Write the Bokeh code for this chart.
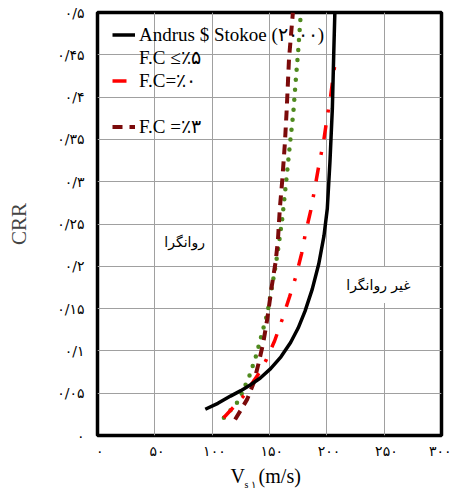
from bokeh.plotting import figure
from bokeh.layouts import column
from bokeh.models import FixedTicker, Legend, LegendItem, Label, Range1d
from bokeh.embed import file_html
from bokeh.resources import INLINE

# ---- data ----
andrus_vs = [94, 105, 116, 125, 133.5, 142, 151, 160, 168.4, 175, 181, 187.3, 193, 197.5, 200.4, 202.7, 204.8, 206, 207]
andrus_crr = [0.031, 0.038, 0.0466, 0.053, 0.060, 0.068, 0.079, 0.093, 0.110, 0.127, 0.147, 0.173, 0.203, 0.236, 0.268, 0.323, 0.386, 0.45, 0.50]

fc0_vs = [110, 119, 127, 134, 141, 147, 154.5, 161, 167.5, 173, 178, 181.5, 186, 189.5, 193, 197, 200.5, 203, 205.7, 208.3]
fc0_crr = [0.021, 0.034, 0.046, 0.060, 0.074, 0.089, 0.112, 0.137, 0.164, 0.188, 0.215, 0.240, 0.266, 0.292, 0.319, 0.346, 0.378, 0.398, 0.426, 0.451]

fc3_vs = [120, 125, 130.6, 136.4, 140.8, 144.6, 148.1, 151.8, 155.3, 157.3, 159, 161.2, 163.4, 165, 167, 170.4]
fc3_crr = [0.019, 0.030, 0.043, 0.063, 0.087, 0.110, 0.138, 0.175, 0.205, 0.230, 0.268, 0.303, 0.345, 0.385, 0.445, 0.50]

green_vs = [110.2, 116.1, 121.3, 125.4, 129.1, 132.9, 138.7, 143.1, 148.1, 151, 154.5, 157.3, 161.2, 164.9, 167.8, 170.8, 172.8, 175.1, 177.1]
green_crr = [0.021, 0.030, 0.038, 0.048, 0.060, 0.072, 0.096, 0.119, 0.144, 0.167, 0.194, 0.218, 0.257, 0.305, 0.344, 0.382, 0.418, 0.456, 0.495]

x_ticks = [0, 50, 100, 150, 200, 250, 300]
x_tick_labels = ["۰", "۵۰", "۱۰۰", "۱۵۰", "۲۰۰", "۲۵۰", "۳۰۰"]
y_ticks = [0, 0.05, 0.1, 0.15, 0.2, 0.25, 0.3, 0.35, 0.4, 0.45, 0.5]
y_tick_labels = ["۰", "۰/۰۵", "۰/۱", "۰/۱۵", "۰/۲", "۰/۲۵", "۰/۳", "۰/۳۵", "۰/۴", "۰/۴۵", "۰/۵"]

legend_labels = ["Andrus $ Stokoe (۲۰۰۰)", "F.C ≤٪۵", "F.C=٪۰", " ", "F.C =٪۳"]
y_title = "CRR"
x_title_main = "V"
x_title_sub = "s ۱"
x_title_unit = "(m/s)"
region_liq = "روانگرا"
region_nonliq = "غیر روانگرا"

SERIF = "Liberation Serif"

p = figure(width=451, height=461, output_backend="svg", toolbar_location=None,
           x_range=Range1d(0, 300), y_range=Range1d(0, 0.5),
           min_border_left=97, min_border_right=10, min_border_top=12, min_border_bottom=24)
p.background_fill_color = "white"
p.border_fill_color = "white"
p.outline_line_color = "black"
p.outline_line_width = 3.5

for ax in (p.xaxis, p.yaxis):
    ax.axis_line_color = None
    ax.major_tick_line_color = None
    ax.minor_tick_line_color = None
    ax.major_tick_out = 0
    ax.major_tick_in = 0
    ax.major_label_text_font = "DejaVu Sans"
    ax.major_label_text_font_size = "14px"
    ax.major_label_text_color = "black"

p.xaxis.ticker = FixedTicker(ticks=x_ticks)
p.yaxis.ticker = FixedTicker(ticks=y_ticks)
p.xaxis.major_label_overrides = {t: "\u00a0" + l for t, l in zip(x_ticks, x_tick_labels)}
p.yaxis.major_label_overrides = dict(zip(y_ticks, y_tick_labels))
p.xaxis.major_label_standoff = 7
p.yaxis.major_label_standoff = 13

p.yaxis.axis_label = y_title
p.yaxis.axis_label_text_font = SERIF
p.yaxis.axis_label_text_font_size = "21px"
p.yaxis.axis_label_text_font_style = "normal"
p.yaxis.axis_label_standoff = 23

p.xgrid.grid_line_color = "#a0a0a0"
p.ygrid.grid_line_color = "#a0a0a0"
p.xgrid.grid_line_width = 1
p.ygrid.grid_line_width = 1

r_green = p.line(green_vs, green_crr, line_color="#4f8a1e", line_width=4.5,
                 line_dash="0 10", line_cap="round")
r_fc3 = p.line(fc3_vs, fc3_crr, line_color="#7b0a0a", line_width=4, line_dash="10 7")
r_fc0 = p.line(fc0_vs, fc0_crr, line_color="#ff0000", line_width=3.5, line_dash="14 13 3 13")
r_andrus = p.line(andrus_vs, andrus_crr, line_color="black", line_width=3.5)
r_blank = p.line([], [], line_alpha=0)

legend = Legend(items=[
    LegendItem(label=legend_labels[0], renderers=[r_andrus]),
    LegendItem(label=legend_labels[1], renderers=[r_blank]),
    LegendItem(label=legend_labels[2], renderers=[r_fc0]),
    LegendItem(label=legend_labels[3], renderers=[r_blank]),
    LegendItem(label=legend_labels[4], renderers=[r_fc3]),
], location=(15, 297))
legend.background_fill_alpha = 0
legend.border_line_alpha = 0
legend.padding = 0
legend.margin = 0
legend.spacing = 0
legend.glyph_width = 23
legend.glyph_height = 23
legend.label_height = 23
legend.label_standoff = 4
legend.label_text_font = SERIF
legend.label_text_font_size = "19px"
legend.label_text_font_style = "normal"
legend.label_text_color = "black"
p.add_layout(legend, "center")

p.add_layout(Label(x=76, y=0.229, text=region_liq, text_font="DejaVu Sans", text_font_size="14px",
                   text_align="center", text_baseline="middle", text_color="black"))
p.add_layout(Label(x=245, y=0.178, text=region_nonliq, text_font="DejaVu Sans", text_font_size="14px",
                   text_align="center", text_baseline="middle", text_color="black",
                   background_fill_color="white", padding=10))

# strip below the chart holding the x-axis title (with its subscript)
p2 = figure(width=451, height=29, output_backend="svg", toolbar_location=None,
            x_range=p.x_range, y_range=Range1d(0, 29),
            x_axis_location=None, y_axis_location=None,
            min_border_left=97, min_border_right=10, min_border_top=0, min_border_bottom=0)
p2.outline_line_color = None
p2.xgrid.visible = False
p2.ygrid.visible = False
p2.background_fill_color = "white"
p2.border_fill_color = "white"
p2.add_layout(Label(x=116, y=15, text=x_title_main, text_font=SERIF, text_font_size="20px",
                    text_align="left", text_baseline="alphabetic", text_color="black"))
p2.add_layout(Label(x=128.3, y=6, text=x_title_sub, text_font=SERIF, text_font_size="10px",
                    text_align="left", text_baseline="alphabetic", text_color="black"))
p2.add_layout(Label(x=140.5, y=15, text=x_title_unit, text_font=SERIF, text_font_size="20px",
                    text_align="left", text_baseline="alphabetic", text_color="black"))

layout = column(p, p2, spacing=0)
open("out.html", "w").write(file_html(layout, INLINE))
